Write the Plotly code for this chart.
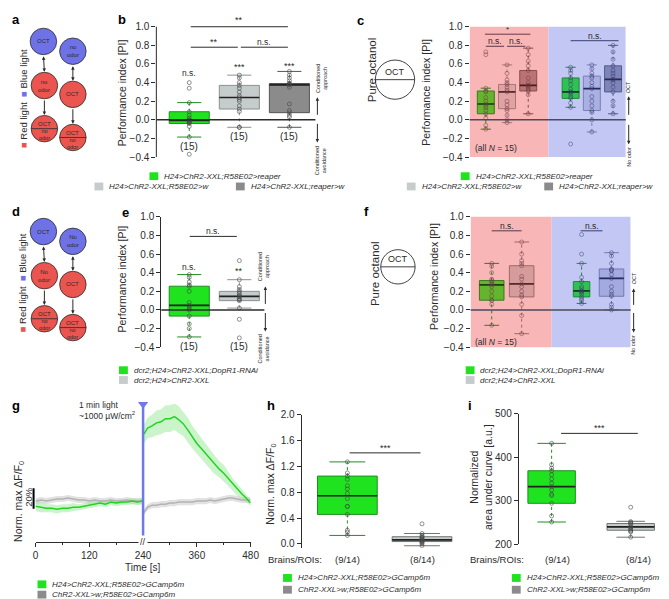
import plotly.graph_objects as go

W, H = 669, 599
FONT = 'Liberation Sans, Arial, Helvetica, sans-serif'
INK = '#2b2b2b'

# ---------------- data ----------------
# box stats are [q1, median, q3, lower whisker, upper whisker]

# b: performance index, N = 15 per group
b_labels = ['H24>ChR2-XXL;R58E02>reaper', 'H24>ChR2-XXL;R58E02>w', 'H24>ChR2-XXL;reaper>w']
b_reaper_box = [-0.04, -0.005, 0.087, -0.185, 0.185]
b_reaper_pts = [-0.37, -0.185, -0.07, -0.04, -0.03, -0.02, -0.01, -0.005, 0.0, 0.02, 0.05, 0.087, 0.185, 0.34, 0.40]
b_r58w_box = [0.116, 0.24, 0.37, -0.08, 0.48]
b_r58w_pts = [-0.08, -0.08, 0.09, 0.116, 0.15, 0.20, 0.22, 0.24, 0.26, 0.30, 0.34, 0.37, 0.40, 0.45, 0.48]
b_reaperw_box = [0.077, 0.375, 0.39, -0.08, 0.52]
b_reaperw_pts = [-0.08, 0.03, 0.05, 0.077, 0.10, 0.17, 0.35, 0.375, 0.38, 0.39, 0.39, 0.42, 0.45, 0.48, 0.52]
b_n = ['(15)', '(15)', '(15)']
b_stars = ['n.s.', '***', '***']
b_star_y = [0.50, 0.57, 0.58]

# c: pure octanol, red light side and blue light side
c_red_reaper_box = [0.065, 0.17, 0.31, -0.10, 0.34]
c_red_reaper_pts = [-0.10, -0.06, 0.02, 0.065, 0.10, 0.13, 0.15, 0.17, 0.20, 0.24, 0.30, 0.31, 0.34, 0.70, 0.73]
c_red_r58w_box = [0.12, 0.30, 0.38, -0.03, 0.59]
c_red_r58w_pts = [-0.03, 0.0, 0.05, 0.10, 0.12, 0.16, 0.20, 0.30, 0.32, 0.35, 0.38, 0.40, 0.43, 0.50, 0.59]
c_red_reaperw_box = [0.31, 0.37, 0.53, 0.065, 0.77]
c_red_reaperw_pts = [0.065, 0.27, 0.31, 0.32, 0.34, 0.36, 0.37, 0.37, 0.40, 0.45, 0.53, 0.58, 0.63, 0.70, 0.77]
c_blue_reaper_box = [0.23, 0.30, 0.45, 0.135, 0.565]
c_blue_reaper_pts = [-0.26, 0.135, 0.18, 0.23, 0.25, 0.28, 0.30, 0.30, 0.33, 0.38, 0.42, 0.45, 0.50, 0.53, 0.565]
c_blue_r58w_box = [0.10, 0.335, 0.47, -0.13, 0.59]
c_blue_r58w_pts = [-0.13, 0.0, 0.08, 0.10, 0.15, 0.20, 0.25, 0.335, 0.36, 0.40, 0.45, 0.47, 0.50, 0.55, 0.59]
c_blue_reaperw_box = [0.30, 0.435, 0.58, 0.065, 0.80]
c_blue_reaperw_pts = [0.065, 0.15, 0.20, 0.30, 0.35, 0.40, 0.43, 0.435, 0.47, 0.50, 0.53, 0.58, 0.65, 0.73, 0.80]

# e: DopR1 knock-down
e_labels = ['dcr2;H24>ChR2-XXL;DopR1-RNAi', 'dcr2;H24>ChR2-XXL']
e_rnai_box = [-0.066, 0.05, 0.255, -0.29, 0.38]
e_rnai_pts = [-0.29, -0.20, -0.15, -0.066, 0.0, 0.02, 0.04, 0.05, 0.08, 0.20, 0.255, 0.27, 0.30, 0.35, 0.38]
e_ctrl_box = [0.10, 0.145, 0.20, 0.02, 0.325]
e_ctrl_pts = [-0.30, -0.10, 0.02, 0.10, 0.11, 0.12, 0.14, 0.145, 0.16, 0.18, 0.20, 0.22, 0.25, 0.325, 0.53]
e_n = ['(15)', '(15)']
e_stars = ['n.s.', '**']

# f: pure octanol, DopR1 knock-down
f_red_rnai_box = [0.105, 0.27, 0.316, -0.165, 0.50]
f_red_rnai_pts = [-0.165, 0.06, 0.10, 0.105, 0.15, 0.20, 0.25, 0.27, 0.28, 0.30, 0.316, 0.33, 0.40, 0.47, 0.50]
f_red_ctrl_box = [0.14, 0.28, 0.475, -0.255, 0.73]
f_red_ctrl_pts = [-0.255, -0.06, 0.06, 0.14, 0.16, 0.20, 0.25, 0.28, 0.33, 0.36, 0.475, 0.50, 0.53, 0.60, 0.73]
f_blue_rnai_box = [0.14, 0.205, 0.305, 0.07, 0.50]
f_blue_rnai_pts = [0.07, 0.10, 0.12, 0.14, 0.17, 0.19, 0.20, 0.205, 0.23, 0.25, 0.305, 0.35, 0.50, 0.60, 0.81]
f_blue_ctrl_box = [0.147, 0.34, 0.44, 0.0, 0.615]
f_blue_ctrl_pts = [0.0, 0.03, 0.06, 0.147, 0.17, 0.20, 0.25, 0.34, 0.38, 0.42, 0.43, 0.44, 0.50, 0.58, 0.615]

# g: calcium imaging traces, dF/F0 in % relative to baseline
g_labels = ['H24>ChR2-XXL;R58E02>GCamp6m', 'ChR2-XXL>w;R58E02>GCamp6m']
light_on = 240
t_pre = [0, 12, 24, 36, 48, 60, 72, 84, 96, 108, 120, 132, 144, 156, 168, 180, 192, 204, 216, 228, 238]
g_h24_pre = [-5, -6, -7, -7, -8, -7, -7, -6, -6, -5, -4, -3, -2, -3, -1, -2, -1, -1, 0, -1, 0]
g_h24_pre_sem = [5, 5, 4, 4, 4, 4, 4, 4, 3, 3, 3, 3, 3, 3, 3, 3, 3, 3, 3, 3, 3]
g_ctrl_pre = [0, 1, 0, 1, 2, 2, 3, 2, 1, 1, 0, 1, 0, 0, 1, 0, 0, 1, 0, 0, 0]
g_ctrl_pre_sem = [3, 3, 3, 3, 3, 3, 3, 3, 3, 3, 3, 3, 3, 3, 3, 3, 3, 3, 3, 3, 3]
t_post = [242, 250, 260, 270, 280, 290, 300, 310, 320, 330, 340, 350, 360, 370, 380, 390, 400,
          410, 420, 430, 440, 450, 460, 470, 480]
g_h24_post = [65, 71, 73, 76, 77, 80, 80, 82, 79, 75, 69, 62, 56, 51, 46, 40, 35, 31, 27, 22, 16, 11, 7, 3, -2]
g_h24_post_sem = [9, 10, 11, 12, 12, 13, 13, 13, 13, 12, 12, 11, 11, 10, 10, 9, 9, 8, 8, 7, 6, 6, 5, 4, 3]
g_ctrl_post = [-11, -6, -4, -4, -3, -3, -2, -2, -1, -1, -1, -1, 0, 0, 0, 1, 0, 1, 2, 3, 3, 2, 1, 1, 1]
g_ctrl_post_sem = [3, 3, 3, 3, 3, 3, 3, 3, 3, 3, 3, 3, 3, 3, 3, 3, 3, 3, 3, 3, 3, 3, 3, 3, 3]
g_ticks = [0, 120, 240, 360, 480]

# h: norm. max dF/F0
h_h24_box = [0.456, 0.745, 1.05, 0.13, 1.27]
h_h24_pts = [0.13, 0.18, 0.21, 0.456, 0.58, 0.58, 0.70, 0.78, 0.85, 0.90, 1.00, 1.05, 1.10, 1.27]
h_ctrl_box = [0.035, 0.06, 0.11, -0.03, 0.16]
h_ctrl_pts = [-0.03, 0.0, 0.02, 0.035, 0.04, 0.05, 0.06, 0.07, 0.08, 0.10, 0.11, 0.13, 0.16, 0.31]
hi_n = ['(9/14)', '(8/14)']

# i: normalized area under curve
i_h24_box = [294, 332.5, 369, 251, 432]
i_h24_pts = [251, 265, 294, 312, 315, 325, 332, 340, 350, 360, 369, 375, 383, 432]
i_ctrl_box = [232, 240, 247.5, 216, 252.6]
i_ctrl_pts = [216, 228, 230, 232, 235, 238, 240, 245, 248, 250, 252, 285]

# ---------------- colours ----------------
GREEN, GREEN_E = '#1fe31f', '#1f8f1f'
LGREY, LGREY_E = '#c6cccc', '#8a9191'
DGREY, DGREY_E = '#8b8b8b', '#555555'
PINK, LBLUE = '#f8b6b6', '#c3c7f4'
RED_C, BLUE_C = '#ea5550', '#6f72e6'

fig = go.Figure()
annos = []
shapes = []


def px(x):
    return x / W


def py(y):
    return 1 - y / H


def xdom(a, b):
    return [a / W, b / W]


def ydom(top, bot):
    return [1 - bot / H, 1 - top / H]


def txt(x, y, s, size=10, angle=0, color=INK, xa='center', ya='middle', xref='paper', yref='paper', **kw):
    annos.append(dict(x=x if xref != 'paper' else px(x), y=y if yref != 'paper' else py(y), text=s,
                      xref=xref, yref=yref, showarrow=False, textangle=angle, xanchor=xa, yanchor=ya,
                      font=dict(size=size, color=color, family=FONT), **kw))


def arrow(x0, y0, x1, y1, both=False):
    # head at (x1, y1), tail at (x0, y0), all in page pixels
    annos.append(dict(x=px(x1), y=py(y1), ax=x0 - x1, ay=y0 - y1, xref='paper', yref='paper',
                      axref='pixel', ayref='pixel', text='', showarrow=True, arrowhead=2, arrowsize=0.7,
                      arrowwidth=1, arrowcolor=INK, arrowside='end+start' if both else 'end',
                      startarrowhead=2, startarrowsize=0.7, standoff=0, startstandoff=0))


def box(n, pos, stats, pts, fill, edge, med='#222222', width=0.8, ptcol='rgba(70,70,70,0.75)'):
    xa, ya = 'x' + n, 'y' + n
    q1, m, q3, lo, hi = stats
    cw = width * 0.3
    common = dict(xaxis=xa, yaxis=ya, showlegend=False, hoverinfo='skip')
    fig.add_trace(go.Scatter(x=[pos, pos, None, pos, pos], y=[lo, q1, None, q3, hi], mode='lines',
                             line=dict(color=edge, width=1, dash='dot'), **common))
    fig.add_trace(go.Scatter(x=[pos - cw, pos + cw, None, pos - cw, pos + cw], y=[lo, lo, None, hi, hi],
                             mode='lines', line=dict(color=edge, width=1), **common))
    fig.add_trace(go.Box(x=[pos], q1=[q1], median=[m], q3=[q3], lowerfence=[q1], upperfence=[q3],
                         width=width, fillcolor=fill, line=dict(color=edge, width=1), whiskerwidth=0,
                         boxpoints=False, **common))
    fig.add_trace(go.Scatter(x=[pos - width / 2, pos + width / 2], y=[m, m], mode='lines',
                             line=dict(color=med, width=1.7), **common))
    fig.add_trace(go.Scatter(x=[pos] * len(pts), y=pts, mode='markers',
                             marker=dict(symbol='circle-open', size=4, color=ptcol, line=dict(width=0.8)),
                             **common))


def sig(n, x0, x1, y, label, dy=0.06, size=8.5, color=INK):
    shapes.append(dict(type='line', xref='x' + n, yref='y' + n, x0=x0, x1=x1, y0=y, y1=y,
                       line=dict(color=color, width=1)))
    txt(0.5 * (x0 + x1), y + dy, label, size=size, xref='x' + n, yref='y' + n)


def hline0(n, color=INK, width=1.5):
    shapes.append(dict(type='line', xref='x%s domain' % n, yref='y' + n, x0=0, x1=1, y0=0, y1=0,
                       line=dict(color=color, width=width)))


def legend_item(x, y, color, label, size=8):
    shapes.append(dict(type='rect', xref='paper', yref='paper', x0=px(x), x1=px(x + 9),
                       y0=py(y + 4), y1=py(y - 4), fillcolor=color, line=dict(width=0)))
    txt(x + 13, y, '<i>%s</i>' % label, size=size, xa='left')


def circle(cx, cy, r, fill, lw=0.8):
    shapes.append(dict(type='circle', xref='paper', yref='paper', x0=px(cx - r), x1=px(cx + r),
                       y0=py(cy + r), y1=py(cy - r), fillcolor=fill, line=dict(color=INK, width=lw)))


def diagram(dy, no_odor):
    r = 13.5
    circle(33, 28 + dy, r, BLUE_C)
    txt(33, 28 + dy, 'OCT', size=6)
    circle(63, 38 + dy, r, BLUE_C)
    txt(63, 38 + dy, no_odor, size=6)
    circle(34, 73 + dy, r, RED_C)
    txt(34, 73 + dy, no_odor, size=6)
    circle(63, 82 + dy, r, RED_C)
    txt(63, 82 + dy, 'OCT', size=6)
    for cx, cy in [(34, 117 + dy), (63, 126 + dy)]:
        circle(cx, cy, r, RED_C)
        shapes.append(dict(type='line', xref='paper', yref='paper', x0=px(cx - r), x1=px(cx + r),
                           y0=py(cy), y1=py(cy), line=dict(color=INK, width=0.8)))
        txt(cx, cy - 5, 'OCT', size=6)
        txt(cx, cy + 6, 'no<br>odor', size=5.5)
    arrow(33, 42 + dy, 34, 59 + dy, both=True)
    arrow(34, 87 + dy, 34, 103 + dy)
    arrow(63, 52 + dy, 63, 68 + dy, both=True)
    arrow(63, 96 + dy, 63, 112 + dy)


def octanol(cx, cy, r, ytxt):
    txt(cx - 24, ytxt, 'Pure octanol', size=11.5, angle=-90)
    circle(cx, cy, r, 'white', lw=0.9)
    shapes.append(dict(type='line', xref='paper', yref='paper', x0=px(cx - r), x1=px(cx + r),
                       y0=py(cy), y1=py(cy), line=dict(color=INK, width=0.9)))
    txt(cx, cy - 8, 'OCT', size=9)


# ---------------- panel a / d diagrams ----------------
diagram(0, 'no<br>odor')
diagram(194, 'No<br>odor')
legend_light = ('<span style="color:%s">■</span> Red light  <span style="color:%s">■</span> Blue light'
                % (RED_C, BLUE_C))
txt(12, 86, legend_light, size=9.5, angle=-90)
txt(12, 274, legend_light, size=9.5, angle=-90)

# ---------------- panel b ----------------
b_cols = [(GREEN, GREEN_E), (LGREY, LGREY_E), (DGREY, DGREY_E)]
for k, (st, pts) in enumerate([(b_reaper_box, b_reaper_pts), (b_r58w_box, b_r58w_pts),
                               (b_reaperw_box, b_reaperw_pts)]):
    box('', k + 1, st, pts, b_cols[k][0], b_cols[k][1])
    txt(k + 1, st[3] - 0.1, b_n[k], size=10, xref='x', yref='y')
    txt(k + 1, b_star_y[k], b_stars[k], size=8.5 if b_stars[k] == 'n.s.' else 9, xref='x', yref='y')
hline0('')
shapes.append(dict(type='line', xref='x domain', yref='y', x0=0, x1=0, y0=-0.4, y1=1.0,
                   line=dict(color=INK, width=1)))
sig('', 1.03, 2.97, 1.0, '**', dy=0.07, size=9)
sig('', 1.03, 1.97, 0.78, '**', dy=0.06, size=9)
sig('', 2.03, 2.97, 0.78, 'n.s.', dy=0.06)
txt(113, 80, 'Performance index [PI]', size=10.5, angle=-90)
arrow(312, 104, 312, 85)
arrow(312, 111, 312, 131)
txt(316, 66, 'Conditioned<br>approach', size=5.5, angle=-90)
txt(316, 150, 'Conditioned<br>avoidance', size=5.5, angle=-90)
legend_item(141, 165.5, GREEN, b_labels[0])
legend_item(85, 176, LGREY, b_labels[1])
legend_item(229, 176, DGREY, b_labels[2])

# ---------------- panel c ----------------
c_split = 3.95
shapes.append(dict(type='rect', xref='x2', yref='y2 domain', x0=0.236, x1=c_split, y0=0, y1=1,
                   fillcolor=PINK, line=dict(width=0), layer='below'))
shapes.append(dict(type='rect', xref='x2', yref='y2 domain', x0=c_split, x1=7.6, y0=0, y1=1,
                   fillcolor=LBLUE, line=dict(width=0), layer='below'))
c_red_cols = [('#62b52c', '#3c7a1c', '#1f3f14'), ('#e0a2a2', '#ae7474', '#5a2a2a'),
              ('#bb7272', '#8a4c4c', '#4a1e22')]
c_blue_cols = [('#2fc152', '#1f8a3a', '#143a20'), ('#a9b0e2', '#7980b4', '#262c60'),
               ('#7c84b8', '#555c8c', '#232a58')]
c_red = [(c_red_reaper_box, c_red_reaper_pts), (c_red_r58w_box, c_red_r58w_pts),
         (c_red_reaperw_box, c_red_reaperw_pts)]
c_blue = [(c_blue_reaper_box, c_blue_reaper_pts), (c_blue_r58w_box, c_blue_r58w_pts),
          (c_blue_reaperw_box, c_blue_reaperw_pts)]
for k, (st, pts) in enumerate(c_red):
    box('2', k + 1, st, pts, c_red_cols[k][0], c_red_cols[k][1], med=c_red_cols[k][2],
        ptcol='rgba(110,60,70,0.6)')
for k, (st, pts) in enumerate(c_blue):
    box('2', k + 5, st, pts, c_blue_cols[k][0], c_blue_cols[k][1], med=c_blue_cols[k][2],
        ptcol='rgba(60,60,110,0.6)')
hline0('2', color='#4a4a5e')
sig('2', 0.96, 3.1, 0.92, '*', dy=0.05, size=8, color='#6a3a4a')
sig('2', 1.0, 1.86, 0.79, 'n.s.', dy=0.06, color='#5a3a4a')
sig('2', 2.0, 2.86, 0.79, 'n.s.', dy=0.06, color='#5a3a4a')
sig('2', 5.0, 7.26, 0.85, 'n.s.', dy=0.05, color='#3a4270')
txt(470, 137, '(all <i>N</i> = 15)', size=8.5, xa='left')
txt(423, 80, 'Performance index [PI]', size=10.5, angle=-90)
octanol(391, 67, 20, 57)
arrow(629, 104, 629, 84)
arrow(629, 112, 629, 133)
txt(629, 75, 'OCT', size=5.5, angle=-90)
txt(629, 146, 'No odor', size=5.5, angle=-90)
legend_item(458, 165.5, GREEN, b_labels[0])
legend_item(403, 176, LGREY, b_labels[1])
legend_item(543, 176, DGREY, b_labels[2])

# ---------------- panel e ----------------
e_cols = [(GREEN, GREEN_E), (LGREY, LGREY_E)]
for k, (st, pts) in enumerate([(e_rnai_box, e_rnai_pts), (e_ctrl_box, e_ctrl_pts)]):
    box('3', k + 1, st, pts, e_cols[k][0], e_cols[k][1])
    txt(k + 1, -0.39, e_n[k], size=10, xref='x3', yref='y3')
txt(1, 0.46, e_stars[0], size=8.5, xref='x3', yref='y3')
txt(2, 0.42, e_stars[1], size=9, xref='x3', yref='y3')
hline0('3')
sig('3', 1.01, 1.95, 0.79, 'n.s.', dy=0.06)
txt(113, 270, 'Performance index [PI]', size=10.5, angle=-90)
arrow(259, 297, 259, 278)
arrow(259, 304, 259, 324)
txt(257, 258, 'Conditioned<br>approach', size=5.5, angle=-90)
txt(257, 342, 'Conditioned<br>avoidance', size=5.5, angle=-90)
legend_item(110, 363.5, GREEN, e_labels[0])
legend_item(110, 373.5, LGREY, e_labels[1])

# ---------------- panel f ----------------
shapes.append(dict(type='rect', xref='x4', yref='y4 domain', x0=0.295, x1=3.0, y0=0, y1=1,
                   fillcolor=PINK, line=dict(width=0), layer='below'))
shapes.append(dict(type='rect', xref='x4', yref='y4 domain', x0=3.0, x1=5.64, y0=0, y1=1,
                   fillcolor=LBLUE, line=dict(width=0), layer='below'))
box('4', 1, f_red_rnai_box, f_red_rnai_pts, '#62b52c', '#3c7a1c', med='#1f3f14', width=0.82,
    ptcol='rgba(110,60,70,0.6)')
box('4', 2, f_red_ctrl_box, f_red_ctrl_pts, '#d69b9b', '#a06a6a', med='#5a2a2a', width=0.82,
    ptcol='rgba(110,60,70,0.6)')
box('4', 4, f_blue_rnai_box, f_blue_rnai_pts, '#2fc152', '#1f8a3a', med='#143a20', width=0.55,
    ptcol='rgba(60,60,110,0.6)')
box('4', 5, f_blue_ctrl_box, f_blue_ctrl_pts, '#a3aae0', '#7379b0', med='#262c60', width=0.82,
    ptcol='rgba(60,60,110,0.6)')
hline0('4', color='#4a4a5e')
sig('4', 1.0, 2.0, 0.85, 'n.s.', dy=0.05, color='#5a3a4a')
sig('4', 3.97, 4.7, 0.85, 'n.s.', dy=0.05, color='#3a4270')
txt(470, 335, '(all <i>N</i> = 15)', size=8.5, xa='left')
txt(430, 268, 'Performance index [PI]', size=10.5, angle=-90)
octanol(394, 258, 17.5, 265)
arrow(634, 298, 634, 280)
arrow(634, 304, 634, 325)
txt(634, 270, 'OCT', size=5.5, angle=-90)
txt(634, 338, 'No odor', size=5.5, angle=-90)
legend_item(463, 363.5, GREEN, e_labels[0])
legend_item(463, 373.5, LGREY, e_labels[1])

# ---------------- panel g ----------------
gax = dict(xaxis='x5', yaxis='y5', showlegend=False, hoverinfo='skip')
for t, v, s, band in [
        (t_pre, g_ctrl_pre, g_ctrl_pre_sem, 'rgba(190,190,190,0.45)'),
        (t_post, g_ctrl_post, g_ctrl_post_sem, 'rgba(190,190,190,0.45)'),
        (t_pre, g_h24_pre, g_h24_pre_sem, 'rgba(140,230,140,0.45)'),
        (t_post, g_h24_post, g_h24_post_sem, 'rgba(140,230,140,0.45)')]:
    up = [a + b for a, b in zip(v, s)]
    lo = [a - b for a, b in zip(v, s)]
    fig.add_trace(go.Scatter(x=t + t[::-1], y=up + lo[::-1], fill='toself', fillcolor=band,
                             line=dict(width=0), mode='lines', **gax))
for t, v, line in [(t_pre, g_ctrl_pre, '#b3b3b3'), (t_post, g_ctrl_post, '#b3b3b3'),
                   (t_pre, g_h24_pre, '#22d322'), (t_post, g_h24_post, '#22d322')]:
    fig.add_trace(go.Scatter(x=t, y=v, mode='lines', line=dict(color=line, width=1.5), **gax))
shapes.append(dict(type='line', xref='x5', yref='y5 domain', x0=light_on, x1=light_on, y0=0.03, y1=1,
                   line=dict(color='#6f78e8', width=2.5)))
fig.add_trace(go.Scatter(x=[light_on], y=[94], mode='markers', cliponaxis=False,
                         marker=dict(symbol='triangle-down', size=9, color='#6f78e8'), **gax))
shapes.append(dict(type='line', xref='paper', yref='y5', x0=px(23), x1=px(23), y0=-7.6, y1=12.4,
                   line=dict(color='black', width=2)))
txt(17, 493, '20%', size=9.5, angle=-90)
txt(8, 497, 'Norm. max ΔF/F<sub>0</sub>', size=10.5, angle=-90)
txt(128, 405, '1 min light<br>~1000 µW/cm<sup>2</sup>', size=8.5, xa='right', align='left')
txt(light_on, 539, '//', size=9, xref='x5', bgcolor='white')
txt(134, 565, 'Time [s]', size=10)
legend_item(27, 582, GREEN, g_labels[0])
legend_item(27, 592.5, DGREY, g_labels[1])

# ---------------- panel h ----------------
box('6', 1, h_h24_box, h_h24_pts, GREEN, GREEN_E)
box('6', 2, h_ctrl_box, h_ctrl_pts, LGREY, '#6f7575')
sig('6', 1.03, 1.98, 1.41, '***', dy=0.08, size=9)
txt(265, 480, 'Norm. max ΔF/F<sub>0</sub>', size=10.5, angle=-90)
txt(289, 557, 'Brains/ROIs:', size=9.5)
txt(1, 557, hi_n[0], size=9.5, xref='x6')
txt(2, 557, hi_n[1], size=9.5, xref='x6')
legend_item(277, 575.5, GREEN, g_labels[0])
legend_item(277, 587.5, DGREY, g_labels[1])

# ---------------- panel i ----------------
box('7', 1, i_h24_box, i_h24_pts, GREEN, GREEN_E, width=0.6)
box('7', 2, i_ctrl_box, i_ctrl_pts, LGREY, '#6f7575', width=0.6)
sig('7', 1.12, 2.09, 455, '***', dy=12, size=9)
txt(478, 472, 'Normalized<br>area under curve [a.u.]', size=10.5, angle=-90)
txt(495, 557, 'Brains/ROIs:', size=9.5)
txt(1.08, 557, hi_n[0], size=9.5, xref='x7')
txt(2.1, 557, hi_n[1], size=9.5, xref='x7')
legend_item(510, 575.5, GREEN, g_labels[0])
legend_item(510, 587.5, DGREY, g_labels[1])

# ---------------- panel letters ----------------
for s, x, y in [('a', 5, 6), ('b', 113, 6), ('c', 356, 7), ('d', 5, 202), ('e', 117, 203),
                ('f', 362, 202), ('g', 5, 400), ('h', 265, 400), ('i', 467, 399)]:
    txt(x, y, '<b>%s</b>' % s, size=13, color='black')

# ---------------- axes ----------------
yk = dict(showgrid=False, zeroline=False, ticks='outside', ticklen=4, tickwidth=1, tickcolor=INK,
          tickfont=dict(size=10, color=INK, family=FONT), showline=True, linecolor=INK, linewidth=1)
pi_ticks = [-0.4, -0.2, 0.0, 0.2, 0.4, 0.6, 0.8, 1.0]
hid = dict(visible=False, showgrid=False, zeroline=False)

fig.update_layout(
    width=W, height=H, margin=dict(l=0, r=0, t=0, b=0),
    paper_bgcolor='white', plot_bgcolor='rgba(0,0,0,0)', showlegend=False,
    font=dict(family=FONT, color=INK), boxmode='overlay',
    xaxis=dict(hid, domain=xdom(148, 310), range=[0.343, 3.52], anchor='y'),
    yaxis=dict(yk, domain=ydom(1.6, 147.9), range=[-0.42, 1.12], tickvals=pi_ticks, tickformat='.1f',
               showline=False, anchor='x'),
    xaxis2=dict(hid, domain=xdom(467, 626), range=[0.236, 7.6], anchor='y2'),
    yaxis2=dict(yk, domain=ydom(13, 146), range=[-0.4, 1.0], tickvals=pi_ticks, tickformat='.1f',
                showline=False, anchor='x2'),
    xaxis3=dict(hid, domain=xdom(153, 258), range=[0.441, 2.5], anchor='y3'),
    yaxis3=dict(yk, domain=ydom(207, 340), range=[-0.4, 1.0], tickvals=pi_ticks, tickformat='.1f',
                anchor='x3'),
    xaxis4=dict(hid, domain=xdom(468, 631), range=[0.295, 5.64], anchor='y4'),
    yaxis4=dict(yk, domain=ydom(207, 340), range=[-0.4, 1.0], tickvals=pi_ticks, tickformat='.1f',
                showline=False, anchor='x4'),
    xaxis5=dict(domain=xdom(25, 244), range=[0, 480], anchor='y5', showgrid=False, zeroline=False,
                showline=True, linecolor=INK, linewidth=1, ticks='outside', ticklen=4, tickcolor=INK,
                tickvals=g_ticks, tickfont=dict(size=10, color=INK, family=FONT),
                minor=dict(dtick=60, tick0=0, ticks='outside', ticklen=2, tickcolor=INK, showgrid=False)),
    yaxis5=dict(hid, domain=ydom(398, 539), range=[-40, 94.3], anchor='x5'),
    xaxis6=dict(hid, domain=xdom(296, 455), range=[0.388, 2.48], anchor='y6'),
    yaxis6=dict(yk, domain=ydom(409, 544.6), range=[-0.06, 2.0], tickvals=[0, 0.4, 0.8, 1.2, 1.6, 2.0],
                tickformat='.1f', anchor='x6'),
    xaxis7=dict(hid, domain=xdom(517, 660), range=[0.584, 2.36], anchor='y7'),
    yaxis7=dict(yk, domain=ydom(408, 541), range=[200, 500], tickvals=[200, 300, 400, 500], anchor='x7'),
    annotations=annos, shapes=shapes,
)

fig.write_html('out.html')
